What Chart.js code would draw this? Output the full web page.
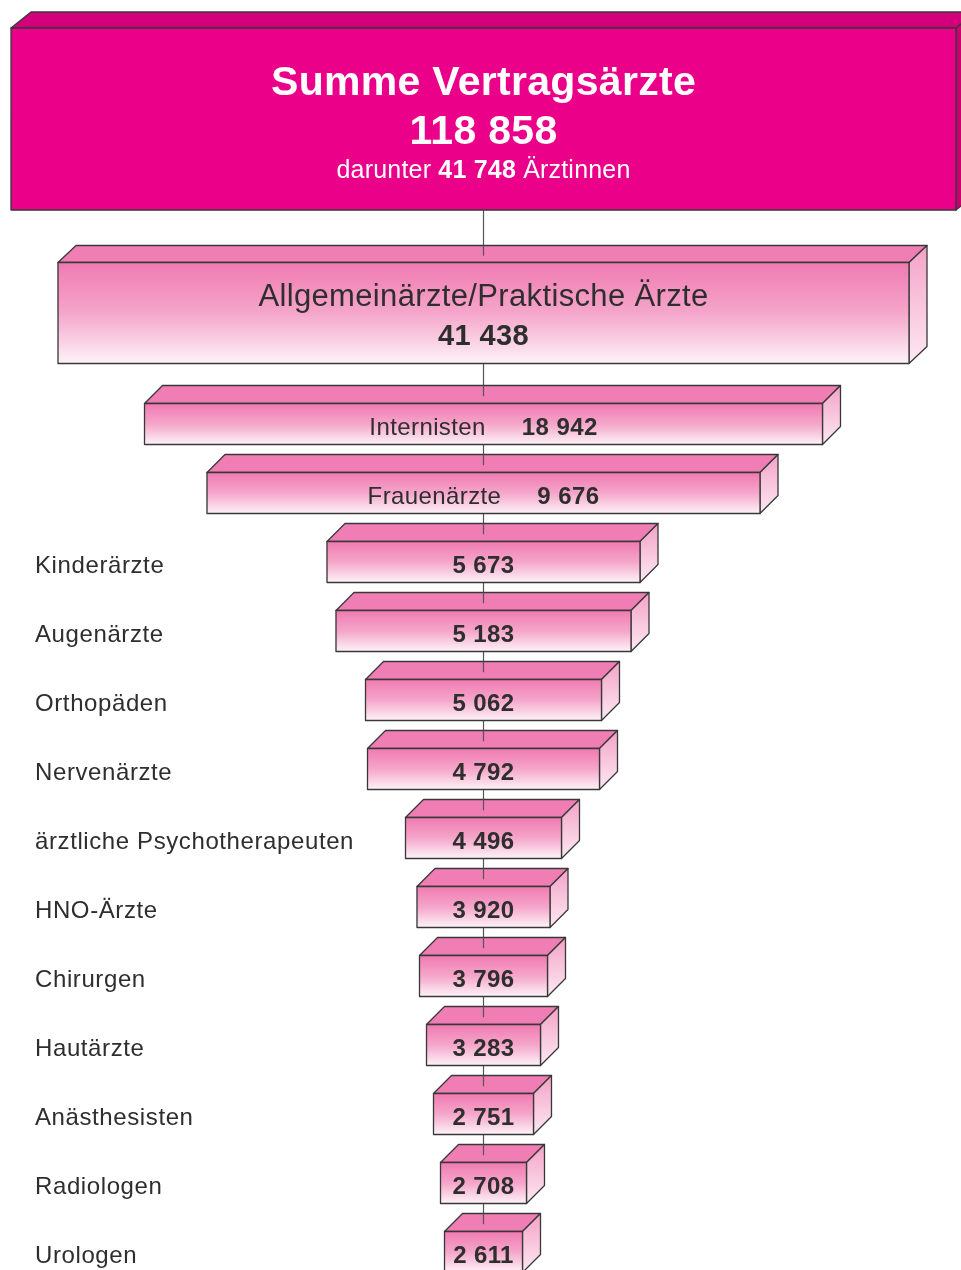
<!DOCTYPE html>
<html lang="de">
<head>
<meta charset="utf-8">
<title>Vertragsärzte nach Arztgruppen</title>
<script src="https://cdn.jsdelivr.net/npm/chart.js@4.4.1/dist/chart.umd.min.js"></script>
<style>
  html, body { margin: 0; padding: 0; background: #fff; }
  #rahmen { position: relative; width: 961px; height: 1270px; overflow: hidden; }
  #rahmen canvas { position: absolute; left: 0; top: 0; }
</style>
</head>
<body>
<div id="rahmen">
  <canvas id="gesamt" width="961" height="1270"></canvas>
  <canvas id="gruppen" width="961" height="1270"></canvas>
</div>
<script>
// Kopf: Summe und groesste Gruppe
const kopfKategorien = ['Summe Vertragsärzte', 'Allgemeinärzte/Praktische Ärzte'];
const kopfWerte = [118858, 41438];
const kopfLaenge = [945, 851];          // Balkenlaenge, aus dem Bild gelesen
const aerztinnen = 41748;

// weitere Arztgruppen
const kategorien = ['Internisten', 'Frauenärzte', 'Kinderärzte', 'Augenärzte', 'Orthopäden',
  'Nervenärzte', 'ärztliche Psychotherapeuten', 'HNO-Ärzte', 'Chirurgen', 'Hautärzte',
  'Anästhesisten', 'Radiologen', 'Urologen'];
const werte = [18942, 9676, 5673, 5183, 5062, 4792, 4496, 3920, 3796, 3283, 2751, 2708, 2611];
const laenge = [678, 553, 313, 295, 236, 232, 156, 133, 128, 114, 100, 86, 78];

const SCHRIFT = '"Liberation Sans", Arial, Helvetica, sans-serif';
const kopfHoehe = [182, 101];

function zahl(n) {
  return n.toString().replace(/\B(?=(\d{3})+(?!\d))/g, ' ');
}

function sperren(ctx, px) {
  if ('letterSpacing' in ctx) ctx.letterSpacing = px + 'px';
}

function mehrteilig(ctx, teile, cx, y) {
  let gesamt = 0;
  teile.forEach(t => {
    ctx.font = t.font;
    t.w = ctx.measureText(t.text).width;
    gesamt += t.w + (t.abstand || 0);
  });
  let x = cx - gesamt / 2;
  ctx.textAlign = 'left';
  teile.forEach(t => {
    ctx.font = t.font;
    ctx.fillText(t.text, x, y);
    x += t.w + (t.abstand || 0);
  });
}

const farbenMagenta = { vorne: '#ea0089', oben: '#d4007b', seite: ['#c8006f', '#c8006f'] };
const farbenRosa = { vorne: null, oben: '#f07db3', seite: ['#f4a2c7', '#fde9f2'] };

function quader(ctx, el, dx, dy, farben) {
  const l = Math.min(el.base, el.x), r = Math.max(el.base, el.x);
  const o = el.y - el.height / 2, u = el.y + el.height / 2;
  ctx.save();
  ctx.lineJoin = 'round';
  ctx.strokeStyle = '#383838';
  ctx.lineWidth = 1.3;

  // Oberseite
  ctx.beginPath();
  ctx.moveTo(l, o); ctx.lineTo(l + dx, o - dy); ctx.lineTo(r + dx, o - dy); ctx.lineTo(r, o);
  ctx.closePath();
  ctx.fillStyle = farben.oben;
  ctx.fill(); ctx.stroke();

  // rechte Seite
  const gs = ctx.createLinearGradient(0, o - dy, 0, u);
  gs.addColorStop(0, farben.seite[0]);
  gs.addColorStop(1, farben.seite[1]);
  ctx.beginPath();
  ctx.moveTo(r, o); ctx.lineTo(r + dx, o - dy); ctx.lineTo(r + dx, u - dy); ctx.lineTo(r, u);
  ctx.closePath();
  ctx.fillStyle = gs;
  ctx.fill(); ctx.stroke();

  // Vorderseite
  if (farben.vorne) {
    ctx.fillStyle = farben.vorne;
  } else {
    const gv = ctx.createLinearGradient(0, o, 0, u);
    gv.addColorStop(0, '#f07ab1');
    gv.addColorStop(0.5, '#f5a6ca');
    gv.addColorStop(1, '#fdf3f8');
    ctx.fillStyle = gv;
  }
  ctx.fillRect(l, o, r - l, u - o);
  ctx.strokeRect(l, o, r - l, u - o);
  ctx.restore();
}

const quaderPlugin = {
  id: 'quader',
  afterDatasetsDraw(chart, args, opts) {
    const ctx = chart.ctx;
    const cx = chart.scales.x.getPixelForValue(0);
    const teile = [];
    chart.data.datasets.forEach((ds, i) => {
      chart.getDatasetMeta(i).data.forEach((el, j) => {
        if (ds.data[j] !== null) teile.push({ el, j });
      });
    });
    teile.sort((a, b) => a.j - b.j);

    if (opts.leitlinie) {
      ctx.save();
      ctx.strokeStyle = '#555';
      ctx.lineWidth = 1.2;
      ctx.beginPath();
      ctx.moveTo(cx, teile[0].el.y);
      ctx.lineTo(cx, chart.height);
      ctx.stroke();
      ctx.restore();
    }

    teile.forEach(({ el, j }) => {
      const t = opts.tiefe(j);
      quader(ctx, el, t.dx, t.dy, opts.farben(j));
      if (opts.linieOben(j)) {
        const o = el.y - el.height / 2;
        ctx.save();
        ctx.strokeStyle = '#555';
        ctx.lineWidth = 1.2;
        ctx.beginPath();
        ctx.moveTo(cx, o - t.dy);
        ctx.lineTo(cx, o - t.dy * 0.4);
        ctx.stroke();
        ctx.restore();
      }
      ctx.save();
      ctx.textBaseline = 'alphabetic';
      opts.beschriften(ctx, el, j, cx);
      ctx.restore();
    });
  }
};

const xAchse = { type: 'linear', min: -483.5, max: 477.5, display: false };

// oberer Teil
new Chart(document.getElementById('gesamt'), {
  type: 'bar',
  data: {
    labels: kopfKategorien,
    datasets: kopfWerte.map((w, i) => ({
      label: kopfKategorien[i],
      data: kopfKategorien.map((_, j) => j === i ? [-kopfLaenge[i] / 2, kopfLaenge[i] / 2] : null),
      barThickness: kopfHoehe[i]
    }))
  },
  options: {
    indexAxis: 'y',
    responsive: false,
    animation: false,
    events: [],
    layout: { padding: { top: 119, bottom: 957, left: 0, right: 0 } },
    datasets: { bar: { grouped: false, backgroundColor: 'rgba(0,0,0,0)', borderWidth: 0 } },
    scales: {
      x: xAchse,
      y: { type: 'category', offset: false, display: false }
    },
    plugins: {
      legend: { display: false },
      tooltip: { enabled: false },
      quader: {
        leitlinie: true,
        tiefe: j => j === 0 ? { dx: 20, dy: 16 } : { dx: 18, dy: 17 },
        farben: j => j === 0 ? farbenMagenta : farbenRosa,
        linieOben: j => j > 0,
        beschriften: (ctx, el, j, cx) => {
          ctx.textAlign = 'center';
          if (j === 0) {
            ctx.fillStyle = '#fff';
            ctx.font = 'bold 41px ' + SCHRIFT;
            sperren(ctx, 0.3);
            ctx.fillText(kopfKategorien[0], cx, el.y - 24);
            ctx.fillText(zahl(kopfWerte[0]), cx, el.y + 25);
            sperren(ctx, 0.2);
            mehrteilig(ctx, [
              { text: 'darunter ', font: '25px ' + SCHRIFT },
              { text: zahl(aerztinnen), font: 'bold 25px ' + SCHRIFT },
              { text: ' Ärztinnen', font: '25px ' + SCHRIFT }
            ], cx, el.y + 59);
          } else {
            ctx.fillStyle = '#2e2e2e';
            ctx.font = '31px ' + SCHRIFT;
            sperren(ctx, 0.35);
            ctx.fillText(kopfKategorien[1], cx, el.y - 7);
            ctx.font = 'bold 29px ' + SCHRIFT;
            ctx.fillText(zahl(kopfWerte[1]), cx, el.y + 32);
          }
        }
      }
    }
  },
  plugins: [quaderPlugin]
});

// Arztgruppen
new Chart(document.getElementById('gruppen'), {
  type: 'bar',
  data: {
    labels: kategorien,
    datasets: [{
      label: 'Vertragsärzte',
      data: laenge.map(b => [-b / 2, b / 2]),
      barThickness: 41
    }]
  },
  options: {
    indexAxis: 'y',
    responsive: false,
    animation: false,
    events: [],
    layout: { padding: { top: 424, bottom: 18, left: 0, right: 0 } },
    datasets: { bar: { backgroundColor: 'rgba(0,0,0,0)', borderWidth: 0 } },
    scales: {
      x: xAchse,
      y: { type: 'category', offset: false, display: false }
    },
    plugins: {
      legend: { display: false },
      tooltip: { enabled: false },
      quader: {
        leitlinie: false,
        tiefe: () => ({ dx: 18, dy: 18 }),
        farben: () => farbenRosa,
        linieOben: () => true,
        beschriften: (ctx, el, j, cx) => {
          ctx.fillStyle = '#2e2e2e';
          sperren(ctx, 0.4);
          const breit = Math.abs(el.x - el.base) > 450;
          if (breit) {
            mehrteilig(ctx, [
              { text: kategorien[j], font: '24px ' + SCHRIFT, abstand: 36 },
              { text: zahl(werte[j]), font: 'bold 24px ' + SCHRIFT }
            ], cx, el.y + 11);
          } else {
            ctx.textAlign = 'center';
            ctx.font = 'bold 24px ' + SCHRIFT;
            ctx.fillText(zahl(werte[j]), cx, el.y + 11);
            ctx.textAlign = 'left';
            ctx.font = '24px ' + SCHRIFT;
            sperren(ctx, 0.6);
            ctx.fillText(kategorien[j], 35, el.y + 11);
          }
        }
      }
    }
  },
  plugins: [quaderPlugin]
});
</script>
</body>
</html>
